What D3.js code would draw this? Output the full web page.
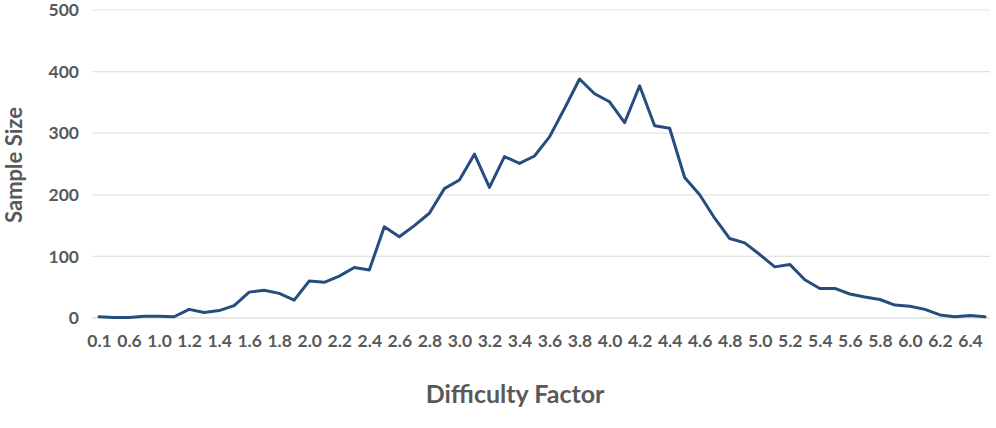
<!DOCTYPE html>
<html><head><meta charset="utf-8">
<script src="https://cdn.jsdelivr.net/npm/d3@7"></script>
<style>
html,body{margin:0;padding:0;background:#fff;}
svg{display:block;font-family:Lato,"Open Sans",sans-serif;}
</style></head>
<body><svg id="chart" width="996" height="428"></svg>
<script>
const categories = ["0.1","0.3","0.6","0.8","1.0","1.1","1.2","1.3","1.4","1.5","1.6","1.7","1.8","1.9","2.0","2.1","2.2","2.3","2.4","2.5","2.6","2.7","2.8","2.9","3.0","3.1","3.2","3.3","3.4","3.5","3.6","3.7","3.8","3.9","4.0","4.1","4.2","4.3","4.4","4.5","4.6","4.7","4.8","4.9","5.0","5.1","5.2","5.3","5.4","5.5","5.6","5.7","5.8","5.9","6.0","6.1","6.2","6.3","6.4","6.5"];
const sampleSize = [2,1,1,3,3,2,14,9,12,20,42,45,40,29,60,58,68,82,78,148,132,150,170,210,224,266,212,262,251,263,294,340,388,364,351,317,377,312,308,228,200,162,129,122,103,83,87,62,48,48,39,34,30,21,19,14,5,2,4,2];
const yTicks = [0,100,200,300,400,500];
const xTitle = "Difficulty Factor";
const yTitle = "Sample Size";

const svg = d3.select("#chart");
const plotLeft = 92, plotRight = 990, plotTop = 10, plotBottom = 318;
const textColor = "#595959";

const x = d3.scalePoint().domain(categories).range([99, 985]);
const y = d3.scaleLinear().domain([0, 500]).range([plotBottom, plotTop]);

// gridlines
svg.append("g").selectAll("line").data(yTicks).join("line")
  .attr("x1", plotLeft).attr("x2", plotRight)
  .attr("y1", d => y(d)).attr("y2", d => y(d))
  .attr("stroke", d => d === 0 ? "#d0d0d0" : "#e3e3e3").attr("stroke-width", 1.2);

// y axis
const yAxis = d3.axisLeft(y).tickValues(yTicks).tickSize(0).tickPadding(0);
const gy = svg.append("g").attr("transform", `translate(79,0)`).call(yAxis);
gy.select(".domain").remove();
gy.selectAll("text").attr("fill", textColor).style("font-size", "17.5px").style("font-weight", "bold")
  .attr("font-family", "Lato");

// x axis
const xAxis = d3.axisBottom(x).tickValues(categories.filter((d, i) => i % 2 === 0)).tickSize(0).tickPadding(0);
const gx = svg.append("g").attr("transform", `translate(0,${plotBottom + 17})`).call(xAxis);
gx.select(".domain").remove();
gx.selectAll("text").attr("fill", textColor).style("font-size", "17.5px").style("font-weight", "bold")
  .attr("font-family", "Lato").attr("dy", "0.71em");

// line
const line = d3.line().x((d, i) => x(categories[i])).y(d => y(d));
svg.append("path").datum(sampleSize)
  .attr("d", line).attr("fill", "none")
  .attr("stroke", "#254e7f").attr("stroke-width", 3).attr("stroke-linejoin", "round").attr("stroke-linecap", "round");

// titles
svg.append("text").attr("x", 515).attr("y", 403).attr("text-anchor", "middle")
  .attr("fill", textColor).style("font-size", "25px").style("font-weight", "bold").text(xTitle);
svg.append("text").attr("transform", "translate(22,165) rotate(-90)").attr("text-anchor", "middle")
  .attr("fill", textColor).style("font-size", "22px").style("font-weight", "bold").text(yTitle);
</script></body></html>
